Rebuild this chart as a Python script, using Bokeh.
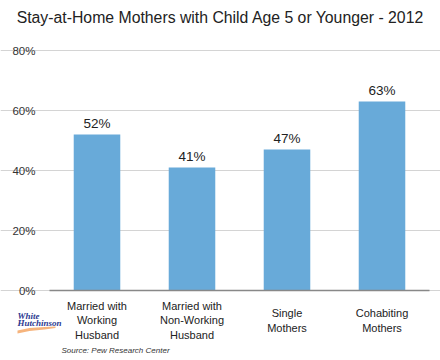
from bokeh.plotting import figure
from bokeh.models import (FixedTicker, PrintfTickFormatter, Label, ColumnDataSource, Range1d,
                          PolyAnnotation, LinearAxis, Grid)
from bokeh.embed import file_html
from bokeh.resources import INLINE
from bokeh.core.properties import value

categories = ["Married with\nWorking\nHusband", "Married with\nNon-Working\nHusband", "Single\nMothers", "Cohabiting\nMothers"]
values = [52, 41, 47, 63]
value_labels = ["52%", "41%", "47%", "63%"]
y_ticks = [0, 20, 40, 60, 80]

FONT = "Liberation Sans"
W, H = 440, 360
PL, PR, PT, PB = 49, 429, 50, 290  # plot area in pixels
n = len(values)
cw = (PR - PL) / n
ppu = (PB - PT) / 80.0

x_start = 0.5 - PL / cw
x_end = 0.5 + (W - PL) / cw
y_start = -(H - PB) / ppu
y_end = 80 + PT / ppu

p = figure(width=W, height=H, output_backend="svg", toolbar_location=None,
           x_range=Range1d(x_start, x_end), y_range=Range1d(y_start, y_end),
           x_axis_type=None, y_axis_type=None,
           min_border_left=0, min_border_right=0, min_border_top=0, min_border_bottom=0)
p.outline_line_color = None
p.background_fill_color = "white"
p.border_fill_color = "white"

# grid lines limited to the plot area
p.add_layout(Grid(dimension=1, ticker=FixedTicker(ticks=y_ticks), bounds=(0.5, n + 0.5),
                  grid_line_color="#d4d4d4"))

xs = list(range(1, n + 1))
src = ColumnDataSource(dict(x=xs, top=values, lab=value_labels))
p.vbar(x="x", top="top", width=0.49, bottom=0, source=src, fill_color="#68aad9", line_color=None)
p.text(x="x", y="top", text="lab", source=src, text_align="center", text_baseline="bottom",
       y_offset=-4, text_font=value(FONT), text_font_size="13.5px", text_color="#222222")

# y axis placed at left edge of plot area
yax = LinearAxis(fixed_location=0.5, ticker=FixedTicker(ticks=y_ticks),
                 formatter=PrintfTickFormatter(format="%d%%"))
yax.axis_line_color = None
yax.major_tick_line_color = None
yax.minor_tick_line_color = None
yax.major_label_text_font = FONT
yax.major_label_text_font_size = "11.5px"
yax.major_label_text_color = "#333333"
yax.major_label_standoff = 8
p.add_layout(yax, "left")

# x axis baseline
xax = LinearAxis(fixed_location=0, ticker=FixedTicker(ticks=[]), bounds=(0.5, n + 0.5))
xax.major_tick_line_color = None
xax.minor_tick_line_color = None
xax.axis_line_color = "#888888"
xax.axis_line_width = 1.5
p.add_layout(xax, "below")

# category labels, vertically centred under each bar
for x, c in zip(xs, categories):
    p.add_layout(Label(x=x, y=-(320 - PB) / ppu, text=c,
                       text_align="center", text_baseline="middle", text_line_height=1.2,
                       text_font=FONT, text_font_size="11px", text_color="#222222"))

p.add_layout(Label(x=220, y=H - 17, x_units="screen", y_units="screen",
                   text="Stay-at-Home Mothers with Child Age 5 or Younger - 2012",
                   text_align="center", text_baseline="middle",
                   text_font=FONT, text_font_size="15.8px", text_color="#222222"))

p.add_layout(Label(x=61, y=H - 350, x_units="screen", y_units="screen",
                   text="Source: Pew Research Center", text_baseline="middle",
                   text_font=FONT, text_font_size="8px", text_font_style="italic",
                   text_color="#333333"))

# logo
p.add_layout(Label(x=17, y=H - 315, x_units="screen", y_units="screen", text="White",
                   text_baseline="middle",
                   text_font="Liberation Serif", text_font_size="9px", text_font_style="bold italic",
                   text_color="#2b3990"))
p.add_layout(Label(x=17, y=H - 322, x_units="screen", y_units="screen", text="Hutchinson",
                   text_baseline="middle",
                   text_font="Liberation Serif", text_font_size="9px", text_font_style="bold italic",
                   text_color="#2b3990"))
p.add_layout(PolyAnnotation(xs=[17, 29, 44, 55, 55, 44, 29, 17],
                            ys=[H - 330, H - 327.5, H - 326.5, H - 326, H - 327.5, H - 329, H - 330.5, H - 333],
                            xs_units="screen", ys_units="screen",
                            fill_color="#f4a15d", fill_alpha=0.8, line_color=None))

open("out.html", "w").write(file_html(p, INLINE))
